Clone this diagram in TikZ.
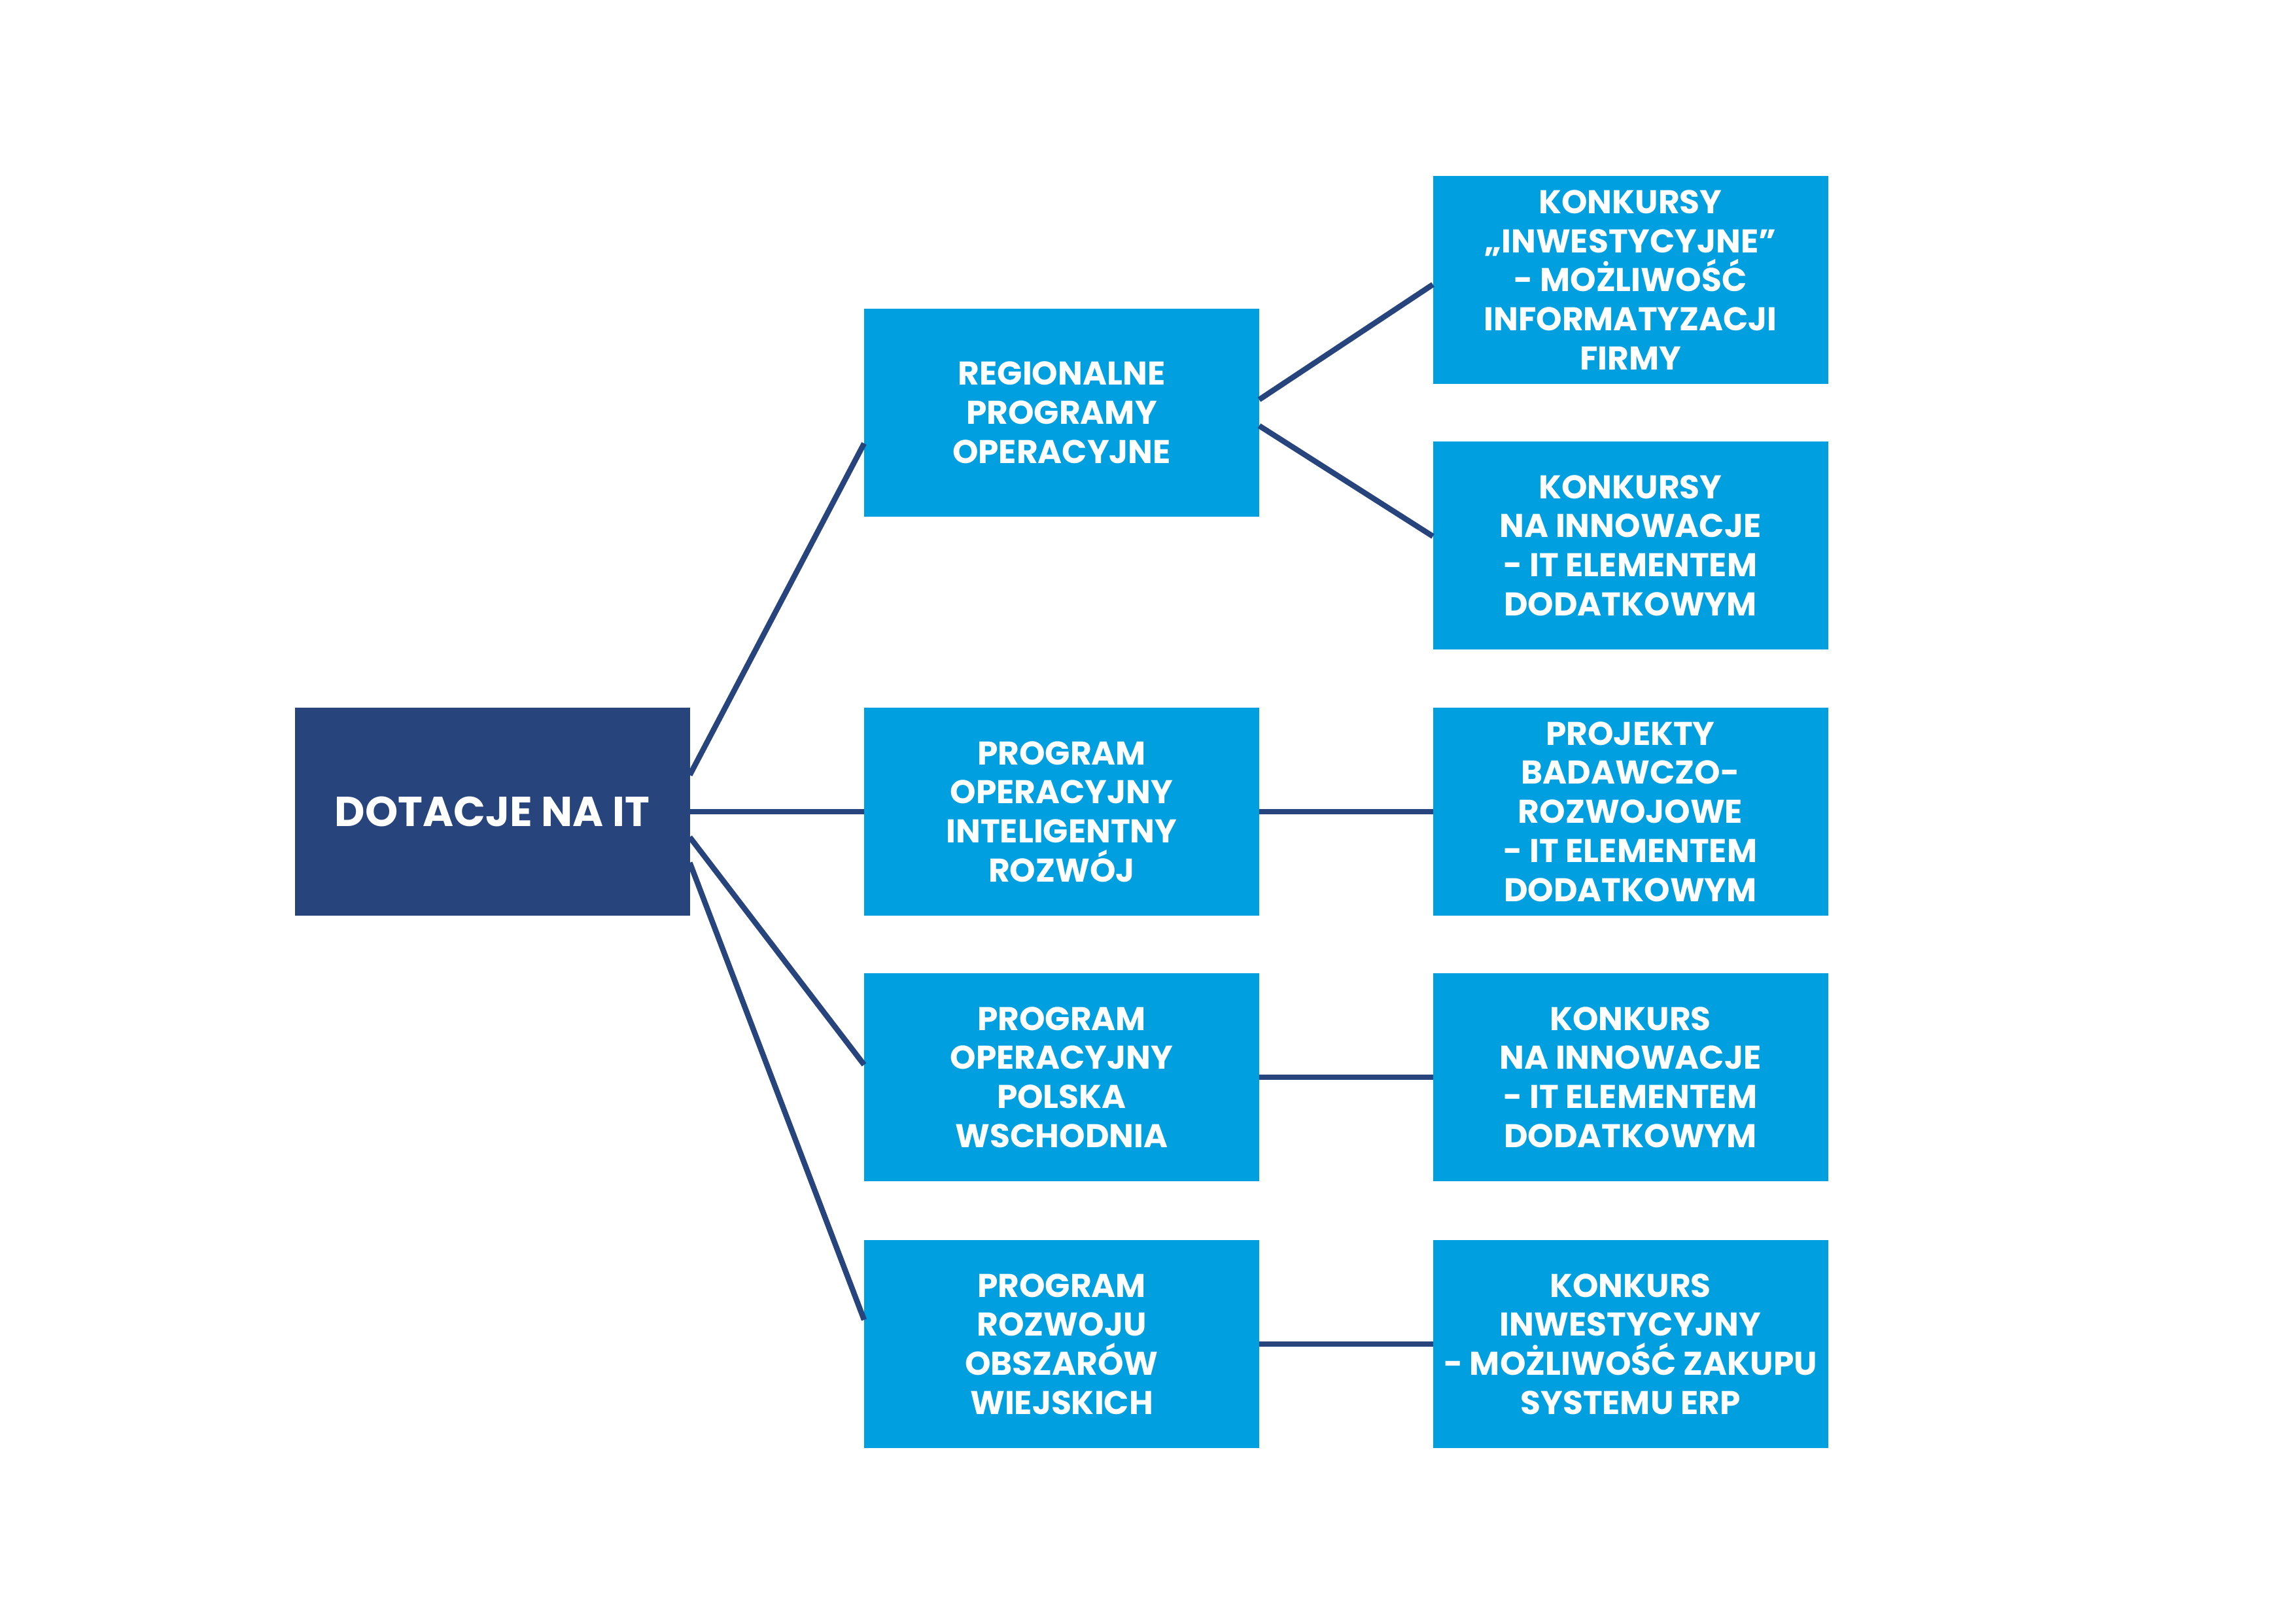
\documentclass[tikz,border=0pt]{standalone}
\usepackage{fontspec}
\setmainfont{Poppins}
\usepackage{xcolor}
\usetikzlibrary{calc}
\definecolor{DTNavy}{HTML}{27447C}
\definecolor{DTBlue}{HTML}{009FE0}

\begin{document}
\begin{tikzpicture}[x=1cm,y=1cm,
  box/.style={fill=DTBlue,text=white,minimum width=6.04cm,minimum height=3.18cm,
    inner sep=0pt,outer sep=0pt,align=center,font=\fontsize{14.3}{17}\selectfont\bfseries},
  rootbox/.style={box,fill=DTNavy,font=\fontsize{18.2}{21}\selectfont\bfseries},
  link/.style={DTNavy,line width=2.4pt}]
\path[use as bounding box] (0,0) rectangle (35.10,24.82);
\fill[white] (0,0) rectangle (35.10,24.82);
% root
\node[rootbox] (dot) at (7.525,12.41) {DOTACJE NA IT};
% programmes
\node[box] (rpo) at (16.23,18.51) {REGIONALNE\\PROGRAMY\\OPERACYJNE};
\node[box] (poir) at (16.23,12.41) {PROGRAM\\OPERACYJNY\\INTELIGENTNY\\ROZWÓJ};
\node[box] (popw) at (16.23,8.35) {PROGRAM\\OPERACYJNY\\POLSKA\\WSCHODNIA};
\node[box] (prow) at (16.23,4.27) {PROGRAM\\ROZWOJU\\OBSZARÓW\\WIEJSKICH};
% contests
\node[box] (rpoinw) at (24.925,20.54) {KONKURSY\\„INWESTYCYJNE”\\- MOŻLIWOŚĆ\\INFORMATYZACJI\\FIRMY};
\node[box] (rpoinn) at (24.925,16.48) {KONKURSY\\NA INNOWACJE\\- IT ELEMENTEM\\DODATKOWYM};
\node[box] (poirbr) at (24.925,12.41) {PROJEKTY\\BADAWCZO-\\ROZWOJOWE\\- IT ELEMENTEM\\DODATKOWYM};
\node[box] (popwinn) at (24.925,8.35) {KONKURS\\NA INNOWACJE\\- IT ELEMENTEM\\DODATKOWYM};
\node[box] (prowerp) at (24.925,4.27) {KONKURS\\INWESTYCYJNY\\- MOŻLIWOŚĆ ZAKUPU\\SYSTEMU ERP};
% links
\draw[link] ($(dot.east)+(0,0.56)$) -- ($(rpo.west)+(0,-0.47)$);
\draw[link] (dot.east) -- (poir.west);
\draw[link] ($(dot.east)+(0,-0.39)$) -- ($(popw.west)+(0,0.19)$);
\draw[link] ($(dot.east)+(0,-0.78)$) -- ($(prow.west)+(0,0.37)$);
\draw[link] ($(rpo.east)+(0,0.20)$) -- ($(rpoinw.west)+(0,-0.07)$);
\draw[link] ($(rpo.east)+(0,-0.20)$) -- ($(rpoinn.west)+(0,0.14)$);
\draw[link] (poir.east) -- (poirbr.west);
\draw[link] (popw.east) -- (popwinn.west);
\draw[link] (prow.east) -- (prowerp.west);
\end{tikzpicture}
\end{document}
